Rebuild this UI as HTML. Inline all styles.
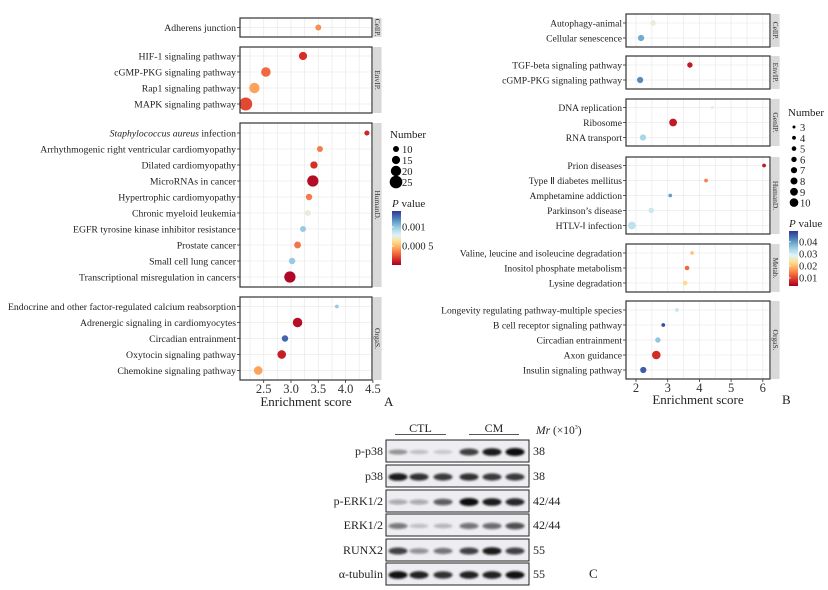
<!DOCTYPE html>
<html><head><meta charset="utf-8">
<style>
html,body{margin:0;padding:0;background:#fff;}
svg{display:block;font-family:"Liberation Serif",serif;}
</style></head>
<body>
<svg id="fig" width="828" height="590" viewBox="0 0 828 590" xmlns="http://www.w3.org/2000/svg">
<defs>
<filter id="blur" x="-20%" y="-50%" width="140%" height="200%"><feGaussianBlur stdDeviation="1.1"/></filter>
<linearGradient id="gradA" x1="0" y1="1" x2="0" y2="0">
<stop offset="0" stop-color="#a50026"/><stop offset="0.11" stop-color="#d73027"/><stop offset="0.22" stop-color="#f46d43"/><stop offset="0.33" stop-color="#fdae61"/><stop offset="0.44" stop-color="#fee090"/><stop offset="0.55" stop-color="#e0f3f8"/><stop offset="0.66" stop-color="#abd9e9"/><stop offset="0.77" stop-color="#74add1"/><stop offset="0.88" stop-color="#4575b4"/><stop offset="1" stop-color="#313695"/>
</linearGradient>
</defs>
</svg>
<script>
// ---------- Panel A data ----------
const aFacets = ["CellP.", "EnvIP.", "HumanD.", "OrgaS."];
const aPathways = ["Adherens junction",
 "HIF-1 signaling pathway","cGMP-PKG signaling pathway","Rap1 signaling pathway","MAPK signaling pathway",
 "Staphylococcus aureus infection","Arrhythmogenic right ventricular cardiomyopathy","Dilated cardiomyopathy","MicroRNAs in cancer","Hypertrophic cardiomyopathy","Chronic myeloid leukemia","EGFR tyrosine kinase inhibitor resistance","Prostate cancer","Small cell lung cancer","Transcriptional misregulation in cancers",
 "Endocrine and other factor-regulated calcium reabsorption","Adrenergic signaling in cardiomyocytes","Circadian entrainment","Oxytocin signaling pathway","Chemokine signaling pathway"];
const aFacetOf = [0,1,1,1,1,2,2,2,2,2,2,2,2,2,2,3,3,3,3,3];
const aScore = [3.50,3.22,2.54,2.33,2.17,4.39,3.53,3.42,3.40,3.33,3.31,3.22,3.12,3.02,2.98,3.84,3.12,2.89,2.83,2.40];
const aCount = [10,15,18,20,26,8,10,13,22,11,10,10,12,11,22,5,18,11,16,16];
const aPval = [0.00040,0.00015,0.00030,0.00045,0.00022,0.00012,0.00035,0.00015,0.00004,0.00035,0.00075,0.00100,0.00033,0.00100,0.00003,0.00100,0.00005,0.00130,0.00010,0.00045];
const aXTicks = [2.5,3.0,3.5,4.0,4.5];
const aXTickLabels = ["2.5","3.0","3.5","4.0","4.5"];
const aSizeLegend = [10,15,20,25];
const aPTicks = [0.001,0.0005];
const aPTickLabels = ["0.001","0.000 5"];

// ---------- Panel B data ----------
const bFacets = ["CellP.","EnvIP.","GenIP.","HumanD.","Metab.","OrgaS."];
const bPathways = ["Autophagy-animal","Cellular senescence",
 "TGF-beta signaling pathway","cGMP-PKG signaling pathway",
 "DNA replication","Ribosome","RNA transport",
 "Prion diseases","Type \u2161 diabetes mellitus","Amphetamine addiction","Parkinson\u2019s disease","HTLV-\u2160 infection",
 "Valine, leucine and isoleucine degradation","Inositol phosphate metabolism","Lysine degradation",
 "Longevity regulating pathway-multiple species","B cell receptor signaling pathway","Circadian entrainment","Axon guidance","Insulin signaling pathway"];
const bFacetOf = [0,0,1,1,2,2,2,3,3,3,3,3,4,4,4,5,5,5,5,5];
const bScore = [2.54,2.16,3.70,2.13,4.40,3.17,2.22,6.04,4.21,3.08,2.48,1.87,3.77,3.61,3.55,3.29,2.86,2.69,2.64,2.23];
const bCount = [6,7,6,7,3,9,7,4,4,4,6,9,4,5,5,4,4,6,10,7];
const bPval = [0.027,0.039,0.006,0.042,0.027,0.006,0.034,0.006,0.015,0.040,0.031,0.032,0.021,0.013,0.023,0.031,0.047,0.036,0.008,0.046];
const bXTicks = [2,3,4,5,6];
const bXTickLabels = ["2","3","4","5","6"];
const bSizeLegend = [3,4,5,6,7,8,9,10];
const bPTicks = [0.04,0.03,0.02,0.01];
const bPTickLabels = ["0.04","0.03","0.02","0.01"];

// ---------- Panel C data ----------
const cProteins = ["p-p38","p38","p-ERK1/2","ERK1/2","RUNX2","\u03b1-tubulin"];
const cMr = ["38","38","42/44","42/44","55","55"];
const cIntensity = [
 [0.45,0.25,0.20,0.80,0.92,1.00],
 [0.92,0.85,0.82,0.85,0.82,0.82],
 [0.40,0.40,0.70,1.00,0.92,0.88],
 [0.60,0.25,0.30,0.62,0.65,0.75],
 [0.80,0.50,0.62,0.80,0.92,0.80],
 [0.95,0.90,0.85,0.90,0.90,0.95]];

const NS="http://www.w3.org/2000/svg";
const svg=document.getElementById('fig');
function el(tag,attrs,parent){const e=document.createElementNS(NS,tag);for(const k in attrs)e.setAttribute(k,attrs[k]);(parent||svg).appendChild(e);return e;}
const stops=["#a50026","#d73027","#f46d43","#fdae61","#fee090","#e0f3f8","#abd9e9","#74add1","#4575b4","#313695"];
function hex(c){return [1,3,5].map(i=>parseInt(c.substr(i,2),16));}
function colorAt(t){t=Math.max(0,Math.min(1,t));const p=t*(stops.length-1);const i=Math.min(stops.length-2,Math.floor(p));const f=p-i;const a=hex(stops[i]),b=hex(stops[i+1]);return "rgb("+a.map((v,k)=>Math.round(v+(b[k]-v)*f)).join(",")+")";}

function drawPanel(cfg){
  const g=el('g',{});
  
  
  const xs=v=>cfg.x0+(v-cfg.v0)*cfg.k;
  const rowsByFacet=cfg.facets.map(()=>[]);
  cfg.facetOf.forEach((f,i)=>rowsByFacet[f].push(i));
  cfg.facets.forEach((fname,fi)=>{
    const top=cfg.fTop[fi],bot=cfg.fBot[fi];
    const fg=el('g',{},g);
    
    
    for(let v=cfg.gridFrom;v<=cfg.gridTo+1e-9;v+=cfg.gridStep){const x=xs(v);if(x>cfg.left&&x<cfg.right)el('line',{x1:x,x2:x,y1:top,y2:bot,stroke:'#ebebeb','stroke-width':0.8},fg);}
    const rows=rowsByFacet[fi];const n=rows.length;const mid=(top+bot)/2;
    rows.forEach((idx,j)=>{
      const y=mid+(j-(n-1)/2)*cfg.step;
      el('line',{x1:cfg.left,x2:cfg.right,y1:y,y2:y,stroke:'#ebebeb','stroke-width':0.8},fg);
      el('line',{x1:cfg.left-3,x2:cfg.left,y1:y,y2:y,stroke:'#333','stroke-width':0.8},fg);
      const t=el('text',{x:cfg.left-4,y:y+3.5,'text-anchor':'end','font-size':cfg.fs,fill:'#222'},fg);
      
      
      const name=cfg.pathways[idx];
      if(name.startsWith('Staphylococcus aureus')){
        const s=el('tspan',{'font-style':'italic'},t);s.textContent='Staphylococcus aureus';
        const s2=el('tspan',{},t);s2.textContent=' infection';
      } else t.textContent=name;
      const c=el('circle',{cx:xs(cfg.score[idx]),cy:y,r:cfg.rad(cfg.count[idx]),fill:colorAt((cfg.pval[idx]-cfg.pMin)/(cfg.pMax-cfg.pMin))},fg);
      
      
    });
    el('rect',{x:cfg.left,y:top,width:cfg.right-cfg.left,height:bot-top,fill:'none',stroke:'#333','stroke-width':1.2},fg);
    el('rect',{x:cfg.right+0.6,y:top,width:9,height:bot-top,fill:'#d9d9d9'},fg);
    const st=el('text',{x:0,y:0,'font-size':7.5,fill:'#333','text-anchor':'middle',transform:`translate(${cfg.right+3.2},${(top+bot)/2}) rotate(90)`},fg);
    
    
    st.textContent=fname;
  });
  const lastBot=cfg.fBot[cfg.fBot.length-1];
  cfg.xTicks.forEach((v,i)=>{
    const x=xs(v);
    el('line',{x1:x,x2:x,y1:lastBot,y2:lastBot+3,stroke:'#333','stroke-width':0.8},g);
    const t=el('text',{x:x,y:lastBot+13,'text-anchor':'middle','font-size':12.5,fill:'#333'},g);
    
    
    t.textContent=cfg.xTickLabels[i];
  });
  const xt=el('text',{x:(cfg.left+cfg.right)/2,y:cfg.titleY,'text-anchor':'middle','font-size':13,fill:'#222'},g);
  
  
  xt.textContent='Enrichment score';
  const pl=el('text',{x:cfg.letterX,y:cfg.titleY,'font-size':13,fill:'#222'},g);
  
  
  pl.textContent=cfg.letter;
  const lg=el('g',{},g);
  
  
  const lt=el('text',{x:cfg.legX-6,y:cfg.legY,'font-size':11,fill:'#222'},lg);lt.textContent='Number';
  cfg.sizeLegend.forEach((n,i)=>{
    const y=cfg.legY+11+i*cfg.legStep;
    const c=el('circle',{cx:cfg.legX,cy:y,r:cfg.rad(n),fill:'#000'},lg);
    
    
    const t=el('text',{x:cfg.legX+6,y:y+4,'font-size':10.5,fill:'#222'},lg);t.textContent=n;
  });
  const cg=el('g',{},g);
  
  
  const ct=el('text',{x:cfg.cbX,y:cfg.cbTop-4,'font-size':11,fill:'#222'},cg);
  const ti=el('tspan',{'font-style':'italic'},ct);ti.textContent='P';
  const ts=el('tspan',{},ct);ts.textContent=' value';
  el('rect',{x:cfg.cbX,y:cfg.cbTop,width:9,height:cfg.cbBot-cfg.cbTop,fill:'url(#gradA)'},cg);
  const ps=p=>cfg.cbBot-(p-cfg.pMin)/(cfg.pMax-cfg.pMin)*(cfg.cbBot-cfg.cbTop);
  cfg.pTicks.forEach((p,i)=>{
    const y=ps(p);
    el('line',{x1:cfg.cbX,x2:cfg.cbX+2,y1:y,y2:y,stroke:'#fff','stroke-width':0.8},cg);
    const t=el('text',{x:cfg.cbX+10,y:y+3.5,'font-size':10.5,fill:'#222'},cg);t.textContent=cfg.pTickLabels[i];
  });
}

drawPanel({name:'panel-a-dotplot',facets:aFacets,pathways:aPathways,facetOf:aFacetOf,score:aScore,count:aCount,pval:aPval,
  fTop:[18,47,123,297],fBot:[37,113,287,380],step:16,left:240,right:372,x0:291,v0:3,k:54.6,
  gridFrom:2.25,gridTo:4.5,gridStep:0.25,xTicks:aXTicks,xTickLabels:aXTickLabels,fs:9.75,
  rad:n=>0.8+0.22*n,pMin:0,pMax:0.00142,titleY:406,letter:'A',letterX:384,
  sizeLegend:aSizeLegend,legX:396,legY:138,legStep:11,cbX:392,cbTop:211,cbBot:265,pTicks:aPTicks,pTickLabels:aPTickLabels});

drawPanel({name:'panel-b-dotplot',facets:bFacets,pathways:bPathways,facetOf:bFacetOf,score:bScore,count:bCount,pval:bPval,
  fTop:[14,56,99,157,244,301],fBot:[47,89,146,234,292,379],step:15,left:626,right:770,x0:636,v0:2,k:31.7,
  gridFrom:1.5,gridTo:6.5,gridStep:0.5,xTicks:bXTicks,xTickLabels:bXTickLabels,fs:9.6,
  rad:n=>0.3+0.4*n,pMin:0.0033,pMax:0.049,titleY:404,letter:'B',letterX:782,
  sizeLegend:bSizeLegend,legX:794,legY:116,legStep:10.8,cbX:789,cbTop:231,cbBot:286,pTicks:bPTicks,pTickLabels:bPTickLabels});

// ---------- Panel C ----------
const cg=el('g',{});


const rowTop=[440,465,490,514,539,563];
const laneX=[398,419,443,469,492,515];
[['CTL',395,446],['CM',469,519]].forEach(([lab,x1,x2])=>{
  const t=el('text',{x:(x1+x2)/2,y:432,'text-anchor':'middle','font-size':12,fill:'#222'},cg);
  
  
  t.textContent=lab;
  el('line',{x1:x1,x2:x2,y1:434.5,y2:434.5,stroke:'#555','stroke-width':1},cg);
});
const mr=el('text',{x:536,y:434,'font-size':11.5,fill:'#222'},cg);


const m1=el('tspan',{'font-style':'italic'},mr);m1.textContent='Mr';
const m2=el('tspan',{},mr);m2.textContent=' (\u00d710';
const m3=el('tspan',{'font-size':6,dy:-5},mr);m3.textContent='3';
const m4=el('tspan',{dy:5},mr);m4.textContent=')';
cProteins.forEach((p,r)=>{
  const y=rowTop[r],h=22;
  const rg=el('g',{},cg);
  
  
  el('rect',{x:386,y:y,width:143,height:h,fill:'#eeeef2',stroke:'#222','stroke-width':1},rg);
  cIntensity[r].forEach((v,l)=>{
    const b=el('ellipse',{cx:laneX[l],cy:y+h/2+1,rx:9.5,ry:1.6+2.4*v,fill:'#111','fill-opacity':Math.min(1,Math.pow(v,1.4)+0.05),filter:'url(#blur)'},rg);
    
    
  });
  const t=el('text',{x:383,y:y+h/2+4,'text-anchor':'end','font-size':12,fill:'#222'},rg);
  
  
  t.textContent=p;
  const m=el('text',{x:533,y:y+h/2+4,'font-size':12,fill:'#222'},rg);
  
  
  m.textContent=cMr[r];
});
const cl=el('text',{x:589,y:578,'font-size':13,fill:'#222'},cg);


cl.textContent='C';
</script>
</body></html>
